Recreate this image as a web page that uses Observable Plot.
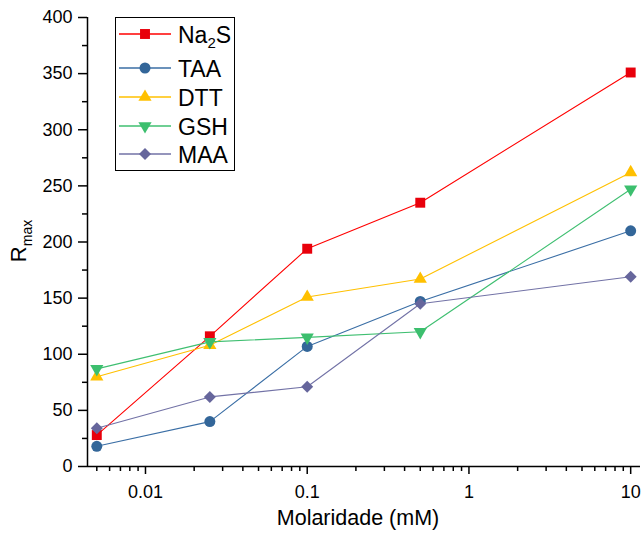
<!DOCTYPE html>
<html>
<head>
<meta charset="utf-8">
<script src="https://cdn.jsdelivr.net/npm/d3@7"></script>
<script src="https://cdn.jsdelivr.net/npm/@observablehq/plot@0.6"></script>
<style>
  html, body { margin: 0; padding: 0; background: #fff; }
  #wrap { position: relative; width: 644px; height: 536px; font-family: "Liberation Sans", Arial, sans-serif; }
  #legend { position: absolute; left: 115px; top: 17px; }
</style>
</head>
<body>
<div id="wrap"><div id="chart"></div><svg id="legend" width="121" height="155"></svg></div>
<script>
// ---- data ----
const molarity = [0.005, 0.025, 0.1, 0.5, 10];
const seriesNames = ["Na2S", "TAA", "DTT", "GSH", "MAA"];
const na2s = [28, 116, 194, 235, 351];
const taa  = [18, 40, 107, 147, 210];
const dtt  = [80, 108, 151, 167, 262];
const gsh  = [87, 111, 115, 120, 247];
const maa  = [34, 62, 71, 145, 169];
const xTicks = [0.01, 0.1, 1, 10];
const xTickLabels = ["0.01", "0.1", "1", "10"];
const yTicks = [0, 50, 100, 150, 200, 250, 300, 350, 400];
const yMinorTicks = [25, 75, 125, 175, 225, 275, 325, 375];
const xTitle = "Molaridade (mM)";

// ---- styles ----
const xDomain = [0.00438, 11.5];
const styles = [
  {line: "#FF0000", fill: "#E8000B", symbol: "square", r: 5.6, rotate: 0},
  {line: "#3A6EA5", fill: "#336699", symbol: "circle", r: 5.5, rotate: 0},
  {line: "#FFC000", fill: "#FFC000", symbol: "triangle", r: 4.9, rotate: 0},
  {line: "#3FBF71", fill: "#3CBF6E", symbol: "triangle", r: 4.9, rotate: 180},
  {line: "#7272A6", fill: "#66669C", symbol: "diamond2", r: 5.4, rotate: 0}
];
const allValues = [na2s, taa, dtt, gsh, maa];
const series = seriesNames.map((name, i) =>
  molarity.map((m, j) => ({series: name, x: m, y: allValues[i][j]})));

const xMinor = d3.scaleLog().domain(xDomain).ticks().filter(t => !xTicks.some(m => Math.abs(m - t) < 1e-9));

const marks = [
  Plot.axisY({ticks: yTicks, tickSize: 9, tickPadding: 6, strokeWidth: 1.5, fontSize: 18, label: null}),
  Plot.axisY({ticks: yMinorTicks, tickSize: 5, strokeWidth: 1.5, tickFormat: () => "", fill: "none", label: null}),
  Plot.axisX({ticks: xTicks, tickSize: 8, tickPadding: 11, strokeWidth: 1.5, fontSize: 18, label: null,
              tickFormat: d => xTickLabels[xTicks.indexOf(d)]}),
  Plot.axisX({ticks: xMinor, tickSize: 5, strokeWidth: 1.5, tickFormat: () => "", fill: "none", label: null}),
  Plot.ruleY([0], {stroke: "#000", strokeWidth: 1.5}),
  Plot.ruleX([xDomain[0]], {stroke: "#000", strokeWidth: 1.5}),
  Plot.text([xTitle], {frameAnchor: "bottom", dy: 58, dx: -6, fontSize: 21.5, fill: "#000"})
];
series.forEach((data, i) => {
  const s = styles[i];
  marks.push(Plot.line(data, {x: "x", y: "y", stroke: s.line, strokeWidth: 1.1}));
  marks.push(Plot.dot(data, {x: "x", y: "y", symbol: () => s.symbol, r: s.r, fill: s.fill, stroke: "none", rotate: s.rotate}));
});

const chart = Plot.plot({
  width: 644, height: 536,
  marginLeft: 87, marginRight: 4, marginTop: 17, marginBottom: 70,
  x: {type: "log", domain: xDomain},
  y: {domain: [0, 400]},
  style: {fontFamily: "'Liberation Sans', Arial, sans-serif", fontSize: "18px", color: "#000", background: "#fff"},
  marks
});
document.getElementById("chart").appendChild(chart);

// y-axis title with subscript
const svg = d3.select(chart);
const yt = svg.append("text")
  .attr("transform", "translate(26,241) rotate(-90)")
  .attr("text-anchor", "middle")
  .attr("font-family", "'Liberation Sans', Arial, sans-serif")
  .attr("font-size", 22)
  .attr("fill", "#000");
yt.append("tspan").text("R");
yt.append("tspan").attr("font-size", 14).attr("dy", 6).text("max");

// legend
const lg = d3.select("#legend");
lg.append("rect").attr("x", 0.5).attr("y", 0.5).attr("width", 119).attr("height", 153)
  .attr("fill", "#fff").attr("stroke", "#000").attr("stroke-width", 1);
const rowY = [17, 51, 80, 109, 137];
const symbolTypes = {square: d3.symbolSquare, circle: d3.symbolCircle, triangle: d3.symbolTriangle, diamond2: d3.symbolDiamond2};
seriesNames.forEach((name, i) => {
  const s = styles[i];
  const g = lg.append("g").attr("transform", `translate(0,${rowY[i]})`);
  g.append("line").attr("x1", 4).attr("x2", 56).attr("y1", 0).attr("y2", 0)
    .attr("stroke", s.line).attr("stroke-width", 1.3);
  g.append("path").attr("d", d3.symbol(symbolTypes[s.symbol], Math.PI * s.r * s.r)())
    .attr("transform", `translate(30,0) rotate(${s.rotate})`).attr("fill", s.fill);
  const t = g.append("text").attr("x", 63).attr("y", 8.5).attr("font-size", 23)
    .attr("font-family", "'Liberation Sans', Arial, sans-serif").attr("fill", "#000");
  if (name === "Na2S") {
    t.append("tspan").text("Na");
    t.append("tspan").attr("font-size", 15).attr("dy", 5).text("2");
    t.append("tspan").attr("dy", -5).text("S");
  } else {
    t.text(name);
  }
});
</script>
</body>
</html>
